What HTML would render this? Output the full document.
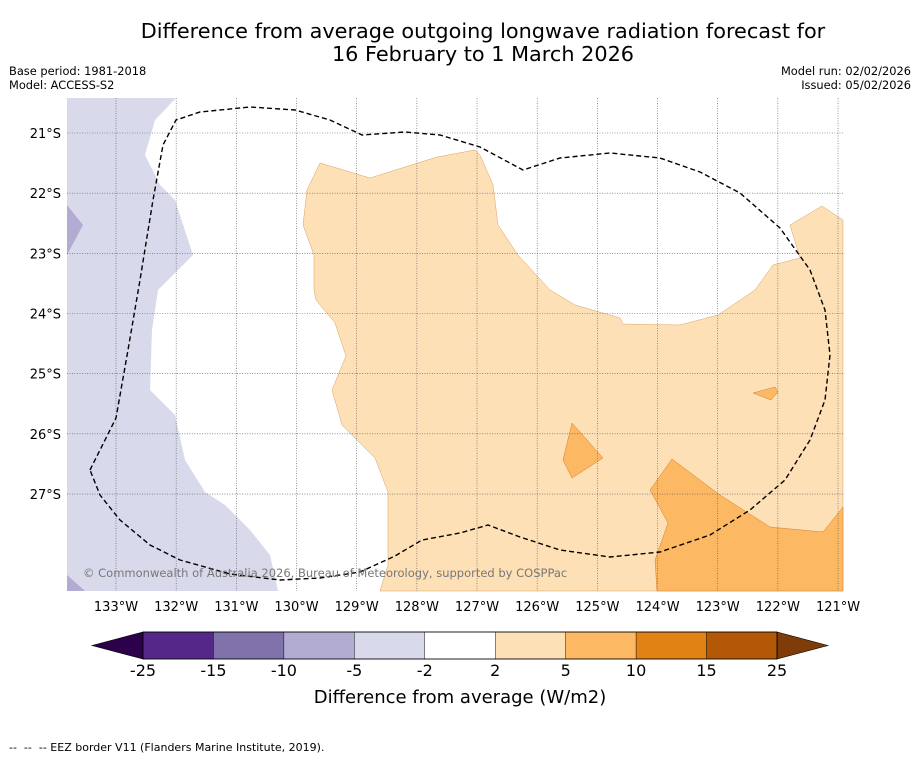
<!DOCTYPE html>
<html><head><meta charset="utf-8"><style>
body{margin:0;background:#fff;width:919px;height:758px;overflow:hidden;font-family:"Liberation Sans","DejaVu Sans",sans-serif}
svg{display:block}
</style></head><body>
<svg id="chart" width="919" height="758" xmlns="http://www.w3.org/2000/svg" font-family="DejaVu Sans, Liberation Sans, sans-serif">
<text x="483" y="38" font-size="20.8" text-anchor="middle">Difference from average outgoing longwave radiation forecast for</text>
<text x="483" y="61" font-size="20.8" text-anchor="middle">16 February to 1 March 2026</text>
<text x="9" y="75" font-size="11.4">Base period: 1981-2018</text>
<text x="9" y="89" font-size="11.4">Model: ACCESS-S2</text>
<text x="911" y="75" font-size="11.4" text-anchor="end">Model run: 02/02/2026</text>
<text x="911" y="89" font-size="11.4" text-anchor="end">Issued: 05/02/2026</text>
<g>
<rect x="67" y="98" width="776" height="493" fill="#fff"/>
<polygon fill="#d8daeb" points="67,98 176,98 155,120 145,155 160,185 175,200 193,255 158,290 152,330 150,390 175,415 185,460 205,492 225,505 250,530 270,555 278,591 67,591"/>
<polygon fill="#b2abd2" points="67,205 83,225 67,255"/>
<polygon fill="#b2abd2" points="67,575 85,591 67,591"/>
<polygon fill="#fee0b6" stroke="#d9a060" stroke-width="0.5" points="320,163 370,178 437,157 475,150 480,155 493,185 498,225 518,255 550,290 575,305 620,318 623,324 680,325 718,315 755,290 773,265 800,258 790,225 822,206 843,220 843,591 380,591 388,565 388,492 375,458 342,425 332,390 346,356 335,323 316,300 314,290 314,255 303,225 307,190"/>
<polygon fill="#fdb863" stroke="#d08030" stroke-width="0.5" points="672,459 720,495 770,527 823,532 843,507 843,591 657,591 655,560 668,523 650,490"/>
<polygon fill="#fdb863" stroke="#d08030" stroke-width="0.5" points="572,423 603,458 572,478 563,460"/>
<polygon fill="#fdb863" stroke="#d08030" stroke-width="0.5" points="753,393 775,387 778,392 771,400"/>
<g id="grid" stroke="#555" stroke-width="0.6" stroke-dasharray="1,1.5"></g>
<polyline fill="none" stroke="#000" stroke-width="1.4" stroke-dasharray="5,3" points="90,470 116,418 128,350 140,280 153,200 163,145 176,120 200,112 250,107 295,110 330,120 362,135 405,132 440,135 480,147 523,170 560,158 610,153 660,158 700,172 740,193 780,228 810,270 825,310 830,355 825,400 810,440 785,480 750,510 710,535 660,552 610,557 560,550 520,537 488,525 460,533 422,540 395,556 360,572 320,578 280,580 230,574 180,560 150,545 120,520 100,495 90,470"/>
<text x="83" y="577" font-size="11.5" fill="#777">© Commonwealth of Australia 2026, Bureau of Meteorology, supported by COSPPac</text>
</g>
<g id="xticks"></g>
<g id="yticks"></g>
<g id="cbar"></g>
<text x="460" y="703" font-size="18" text-anchor="middle">Difference from average (W/m2)</text>
<text x="9" y="751" font-size="11" xml:space="preserve" style="white-space:pre">--  --  -- EEZ border V11 (Flanders Marine Institute, 2019).</text>
</svg>
<script>
const lonLabels=["133°W","132°W","131°W","130°W","129°W","128°W","127°W","126°W","125°W","124°W","123°W","122°W","121°W"];
const lonValues=[-133,-132,-131,-130,-129,-128,-127,-126,-125,-124,-123,-122,-121];
const latLabels=["21°S","22°S","23°S","24°S","25°S","26°S","27°S"];
const latValues=[-21,-22,-23,-24,-25,-26,-27];
const levels=[-25,-15,-10,-5,-2,2,5,10,15,25];
const levelColors=["#542788","#8073ac","#b2abd2","#d8daeb","#ffffff","#fee0b6","#fdb863","#e08214","#b35806"];
const NS="http://www.w3.org/2000/svg";
const xS=v=>116+(v+133)*60.17;
const yS=v=>133+(-21-v)*60.17;
function mk(t,a,p){const e=document.createElementNS(NS,t);for(const k in a)e.setAttribute(k,a[k]);p.appendChild(e);return e;}
const grid=document.getElementById('grid'),xt=document.getElementById('xticks'),yt=document.getElementById('yticks'),cb=document.getElementById('cbar');
lonValues.forEach((v,i)=>{const x=xS(v);
const l=mk('line',{x1:x,x2:x,y1:98,y2:591},grid);


const t=mk('text',{x:x,y:611,'font-size':13,'text-anchor':'middle'},xt);t.textContent=lonLabels[i];

});
latValues.forEach((v,i)=>{const y=yS(v);
const l=mk('line',{x1:67,x2:843,y1:y,y2:y},grid);


const t=mk('text',{x:61,y:y+5,'font-size':13,'text-anchor':'end'},yt);t.textContent=latLabels[i];

});
const n=levelColors.length,x0=143,x1=777,w=(x1-x0)/n,cy=632,ch=27;
const lt=mk('polygon',{points:`92,${cy+ch/2} ${x0},${cy} ${x0},${cy+ch}`,fill:'#2d004b',stroke:'#000','stroke-width':0.6},cb);


const rt=mk('polygon',{points:`828,${cy+ch/2} ${x1},${cy} ${x1},${cy+ch}`,fill:'#7f3b08',stroke:'#000','stroke-width':0.6},cb);


levelColors.forEach((c,i)=>{const r=mk('rect',{x:x0+i*w,y:cy,width:w,height:ch,fill:c,stroke:'#000','stroke-width':0.4},cb);

});
mk('rect',{x:x0,y:cy,width:x1-x0,height:ch,fill:'none',stroke:'#000','stroke-width':0.8},cb);
levels.forEach((v,i)=>{const t=mk('text',{x:x0+i*w,y:676,'font-size':16,'text-anchor':'middle'},cb);t.textContent=v;

});
</script>
</body></html>
